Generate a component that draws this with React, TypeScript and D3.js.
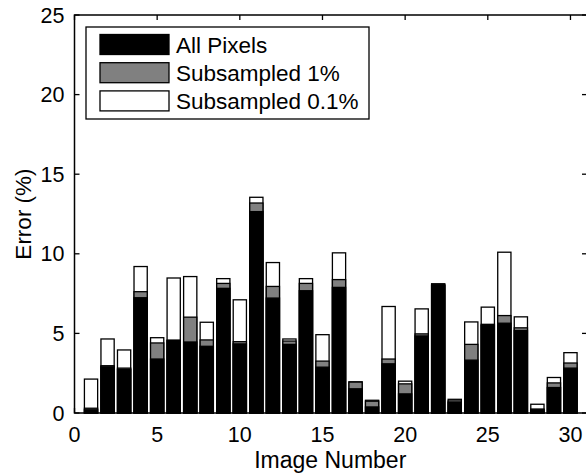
import React, { useRef, useEffect } from 'react';
import * as d3 from 'd3';

// error (%) per image
const imageNumbers = d3.range(1, 31);
const allPixels = [0.2, 2.9, 2.74, 7.24, 3.39, 4.55, 4.46, 4.19, 7.83, 4.34, 12.65, 7.22, 4.31, 7.68, 2.88, 7.89, 1.52, 0.38, 3.09, 1.2, 4.84, 8.0, 0.67, 3.32, 5.51, 5.64, 5.18, 0.2, 1.6, 2.82];
const sub1 = [0.3, 2.97, 2.82, 7.62, 4.4, 4.58, 6.02, 4.59, 8.14, 4.48, 13.19, 7.95, 4.52, 8.14, 3.26, 8.38, 1.94, 0.74, 3.39, 1.83, 4.97, 8.06, 0.76, 4.31, 5.57, 6.12, 5.35, 0.25, 1.89, 3.14];
const sub01 = [2.13, 4.65, 3.96, 9.2, 4.73, 8.48, 8.57, 5.7, 8.44, 7.11, 13.55, 9.45, 4.65, 8.44, 4.92, 10.06, 1.96, 0.8, 6.69, 2.0, 6.54, 8.12, 0.86, 5.72, 6.65, 10.1, 6.04, 0.55, 2.23, 3.79];
const xTicks = [0, 5, 10, 15, 20, 25, 30];
const yTicks = [0, 5, 10, 15, 20, 25];
const seriesNames = ['All Pixels', 'Subsampled 1%', 'Subsampled 0.1%'];
const seriesColors = ['#000000', '#808080', '#ffffff'];

const App = () => {
  const svgRef = useRef<SVGSVGElement>(null);

  useEffect(() => {
    const svg = d3.select(svgRef.current);
    svg.selectAll('*').remove();

    const width = 586;
    const height = 474;
    const margin = { top: 15, right: -1, bottom: 61, left: 74.5 };
    const font = '"Liberation Sans", Arial, sans-serif';

    svg.attr('width', width).attr('height', height);

    const x = d3.scaleLinear().domain([0, 31]).range([margin.left, width - margin.right]);
    const y = d3.scaleLinear().domain([0, 25]).range([height - margin.bottom, margin.top]);
    const barW = (x(1) - x(0)) * 0.8;

    // tallest first so the smaller ones sit in front
    const layers = [sub01, sub1, allPixels];
    const layerColors = ['#ffffff', '#808080', '#000000'];
    layers.forEach((vals, li) => {
      svg.append('g')
        .selectAll('rect')
        .data(imageNumbers)
        .join('rect')
        .attr('x', d => x(d) - barW / 2)
        .attr('y', (d, i) => y(vals[i]))
        .attr('width', barW)
        .attr('height', (d, i) => y(0) - y(vals[i]))
        .attr('fill', layerColors[li])
        .attr('stroke', '#000')
        .attr('stroke-width', 1.3);
    });

    // box + ticks (inward, all four sides)
    const x0 = x(0), x1 = x(31), y0 = y(0), y1 = y(25);
    svg.append('rect')
      .attr('x', x0).attr('y', y1)
      .attr('width', x1 - x0).attr('height', y0 - y1)
      .attr('fill', 'none').attr('stroke', '#000').attr('stroke-width', 1.5);

    const tl = 5;
    const ticks = svg.append('g').attr('stroke', '#000').attr('stroke-width', 1.3);
    xTicks.forEach(t => {
      ticks.append('line').attr('x1', x(t)).attr('x2', x(t)).attr('y1', y0).attr('y2', y0 - tl);
      ticks.append('line').attr('x1', x(t)).attr('x2', x(t)).attr('y1', y1).attr('y2', y1 + tl);
    });
    yTicks.forEach(t => {
      ticks.append('line').attr('x1', x0).attr('x2', x0 + tl).attr('y1', y(t)).attr('y2', y(t));
      ticks.append('line').attr('x1', x1).attr('x2', x1 - tl).attr('y1', y(t)).attr('y2', y(t));
    });

    svg.append('g')
      .selectAll('text')
      .data(xTicks)
      .join('text')
      .attr('x', d => x(d))
      .attr('y', y0 + 29)
      .attr('text-anchor', 'middle')
      .attr('font-family', font)
      .attr('font-size', 21.5)
      .text(d => d);

    svg.append('g')
      .selectAll('text')
      .data(yTicks)
      .join('text')
      .attr('x', x0 - 10)
      .attr('y', d => y(d) + 7.5)
      .attr('text-anchor', 'end')
      .attr('font-family', font)
      .attr('font-size', 21.5)
      .text(d => d);

    svg.append('text')
      .attr('x', (x0 + 570) / 2 + 8)
      .attr('y', 468)
      .attr('text-anchor', 'middle')
      .attr('font-family', font)
      .attr('font-size', 23)
      .text('Image Number');

    svg.append('text')
      .attr('transform', `translate(31, ${(y0 + y1) / 2}) rotate(-90)`)
      .attr('text-anchor', 'middle')
      .attr('font-family', font)
      .attr('font-size', 22.5)
      .text('Error (%)');

    // Legend
    const lg = svg.append('g');
    lg.append('rect')
      .attr('x', 86).attr('y', 27).attr('width', 283).attr('height', 92)
      .attr('fill', '#fff').attr('stroke', '#000').attr('stroke-width', 1.3);
    seriesNames.forEach((name, i) => {
      const cy = 44.5 + i * 28.2;
      lg.append('rect')
        .attr('x', 100).attr('y', cy - 10).attr('width', 69).attr('height', 20)
        .attr('fill', seriesColors[i]).attr('stroke', '#000').attr('stroke-width', 1.3);
      lg.append('text')
        .attr('x', 176).attr('y', cy + 8)
        .attr('font-family', font)
        .attr('font-size', 22.5)
        .text(name);
    });
  }, []);

  return (
    <div style={{ position: 'absolute', left: 0, top: 0 }}>
      <svg ref={svgRef}></svg>
    </div>
  );
};

export default App;
